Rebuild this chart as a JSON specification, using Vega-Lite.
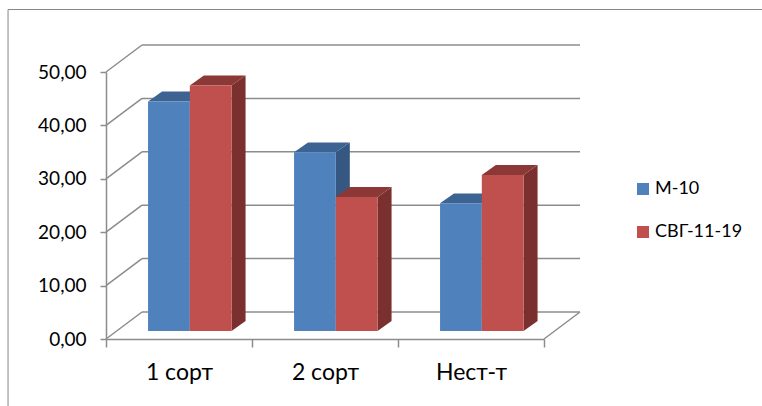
{
  "$schema": "https://vega.github.io/schema/vega-lite/v6.json",
  "width": 438,
  "height": 267,
  "autosize": {"type": "none"},
  "padding": {"left": 106, "top": 72, "right": 218, "bottom": 67},
  "background": "#ffffff",
  "config": {"view": {"stroke": null}, "font": "Lato"},
  "datasets": {
    "bars": [
      {"sort": "1 сорт", "series": "М-10", "value": 42.96},
      {"sort": "1 сорт", "series": "СВГ-11-19", "value": 45.96},
      {"sort": "2 сорт", "series": "М-10", "value": 33.45},
      {"sort": "2 сорт", "series": "СВГ-11-19", "value": 25.08},
      {"sort": "Нест-т", "series": "М-10", "value": 23.9},
      {"sort": "Нест-т", "series": "СВГ-11-19", "value": 29.2}
    ],
    "levels": [
      {"level": 0, "at": 0},
      {"level": 10, "at": 0},
      {"level": 20, "at": 0},
      {"level": 30, "at": 0},
      {"level": 40, "at": 0},
      {"level": 50, "at": 0},
      {"level": 0, "at": 3}
    ]
  },
  "layer": [
    {
      "description": "Side wall and floor edges running from the front plane to the back wall",
      "data": {"name": "levels"},
      "transform": [
        {"calculate": "[0, 1]", "as": "depth"},
        {"flatten": ["depth"]},
        {"calculate": "datum.at + datum.depth * 0.2466", "as": "px"},
        {"calculate": "datum.level + datum.depth * 5.06", "as": "py"}
      ],
      "mark": {"type": "line", "stroke": "#8c8c8c", "strokeWidth": 1.5},
      "encoding": {
        "x": {
          "field": "px", "type": "quantitative", "scale": {"domain": [0, 3]},
          "axis": {
            "title": null, "grid": false,
            "values": [0, 0.5, 1, 1.5, 2, 2.5, 3],
            "domainColor": "#8c8c8c", "domainWidth": 1.5,
            "tickColor": "#8c8c8c", "tickWidth": 1.5, "tickSize": 8,
            "tickOpacity": {"condition": {"test": "datum.value % 1 == 0", "value": 1}, "value": 0},
            "labelExpr": "datum.value == 0.5 ? '1 сорт' : datum.value == 1.5 ? '2 сорт' : datum.value == 2.5 ? 'Нест-т' : ''",
            "labelFontSize": 23, "labelColor": "#000000", "labelPadding": 14,
            "labelOverlap": false, "labelFlush": false, "labelAngle": 0
          }
        },
        "y": {
          "field": "py", "type": "quantitative", "scale": {"domain": [0, 50], "nice": false},
          "axis": {
            "title": null, "grid": false, "values": [0, 10, 20, 30, 40, 50],
            "domainColor": "#8c8c8c", "domainWidth": 1.5,
            "tickColor": "#8c8c8c", "tickWidth": 1.5, "tickSize": 6,
            "labelExpr": "replace(format(datum.value, '.2f'), '.', ',')",
            "labelFontSize": 19, "labelColor": "#000000", "labelPadding": 14
          }
        },
        "detail": [{"field": "level"}, {"field": "at"}]
      }
    },
    {
      "description": "Gridlines on the back wall",
      "data": {"name": "levels"},
      "transform": [{"filter": "datum.at == 0"}],
      "mark": {"type": "rule", "stroke": "#8c8c8c", "strokeWidth": 1.5, "xOffset": 36, "x2Offset": 36, "yOffset": -27},
      "encoding": {
        "x": {"datum": 0, "type": "quantitative", "scale": {"domain": [0, 3]}},
        "x2": {"datum": 3},
        "y": {"field": "level", "type": "quantitative", "scale": {"domain": [0, 50], "nice": false}}
      }
    },
    {
      "description": "Frame around the chart area, open at the window edges",
      "data": {"values": [{"frame": 1}]},
      "layer": [
        {
          "mark": {"type": "rule", "stroke": "#868686", "strokeWidth": 1},
          "encoding": {
            "x": {"datum": -0.671, "type": "quantitative", "scale": {"domain": [0, 3]}},
            "y": {"datum": 61.7, "type": "quantitative", "scale": {"domain": [0, 50], "nice": false}},
            "y2": {"datum": -12.6}
          }
        },
        {
          "mark": {"type": "rule", "stroke": "#868686", "strokeWidth": 1},
          "encoding": {
            "x": {"datum": -0.671, "type": "quantitative", "scale": {"domain": [0, 3]}},
            "x2": {"datum": 4.5},
            "y": {"datum": 61.7, "type": "quantitative", "scale": {"domain": [0, 50], "nice": false}}
          }
        }
      ]
    },
    {
      "description": "Bars extruded into depth: side face, top face, then front face",
      "data": {"name": "bars"},
      "transform": [
        {"calculate": "indexof(['1 сорт', '2 сорт', 'Нест-т'], datum.sort)", "as": "group"},
        {"calculate": "datum.series == 'М-10' ? 0 : 1", "as": "slot"},
        {"calculate": "datum.group + 0.288 + datum.slot * 0.286", "as": "left"},
        {"calculate": "datum.left + 0.286", "as": "right"},
        {"calculate": "1.5", "as": "floor"},
        {"calculate": "datum.floor + datum.value", "as": "top"}
      ],
      "layer": [
        {
          "transform": [
            {"calculate": "[0, 1]", "as": "depth"},
            {"flatten": ["depth"]},
            {"calculate": "datum.right + datum.depth * 0.0959", "as": "sx"},
            {"calculate": "datum.top + datum.depth * 1.87", "as": "sy"},
            {"calculate": "datum.floor + datum.depth * 1.87", "as": "sy2"}
          ],
          "mark": {"type": "area", "orient": "vertical"},
          "encoding": {
            "x": {"field": "sx", "type": "quantitative", "scale": {"domain": [0, 3]}},
            "y": {"field": "sy", "type": "quantitative", "stack": null, "scale": {"domain": [0, 50], "nice": false}},
            "y2": {"field": "sy2"},
            "detail": [{"field": "sort"}, {"field": "series"}],
            "fill": {"condition": {"test": "datum.series == 'М-10'", "value": "#355781"}, "value": "#7a302e"}
          }
        },
        {
          "transform": [
            {"calculate": "[0, 1]", "as": "depth"},
            {"flatten": ["depth"]},
            {"calculate": "datum.left + datum.depth * 0.0959", "as": "tx"},
            {"calculate": "datum.right + datum.depth * 0.0959", "as": "tx2"},
            {"calculate": "datum.top + datum.depth * 1.87", "as": "ty"}
          ],
          "mark": {"type": "area", "orient": "horizontal"},
          "encoding": {
            "x": {"field": "tx", "type": "quantitative", "stack": null, "scale": {"domain": [0, 3]}},
            "x2": {"field": "tx2"},
            "y": {"field": "ty", "type": "quantitative", "scale": {"domain": [0, 50], "nice": false}},
            "detail": [{"field": "sort"}, {"field": "series"}],
            "fill": {"condition": {"test": "datum.series == 'М-10'", "value": "#3c6391"}, "value": "#8c3836"}
          }
        },
        {
          "mark": {"type": "rect"},
          "encoding": {
            "x": {"field": "left", "type": "quantitative", "scale": {"domain": [0, 3]}},
            "x2": {"field": "right"},
            "y": {"field": "top", "type": "quantitative", "scale": {"domain": [0, 50], "nice": false}},
            "y2": {"field": "floor"},
            "fill": {
              "field": "series", "type": "nominal",
              "scale": {"domain": ["М-10", "СВГ-11-19"], "range": ["#4f81bd", "#c0504d"]},
              "legend": {
                "title": null, "orient": "none", "legendX": 528, "legendY": 108,
                "symbolType": "square", "symbolSize": 144, "symbolStrokeWidth": 0,
                "labelFontSize": 18, "labelColor": "#000000", "labelOffset": 3, "rowPadding": 25
              }
            }
          }
        }
      ]
    }
  ]
}
